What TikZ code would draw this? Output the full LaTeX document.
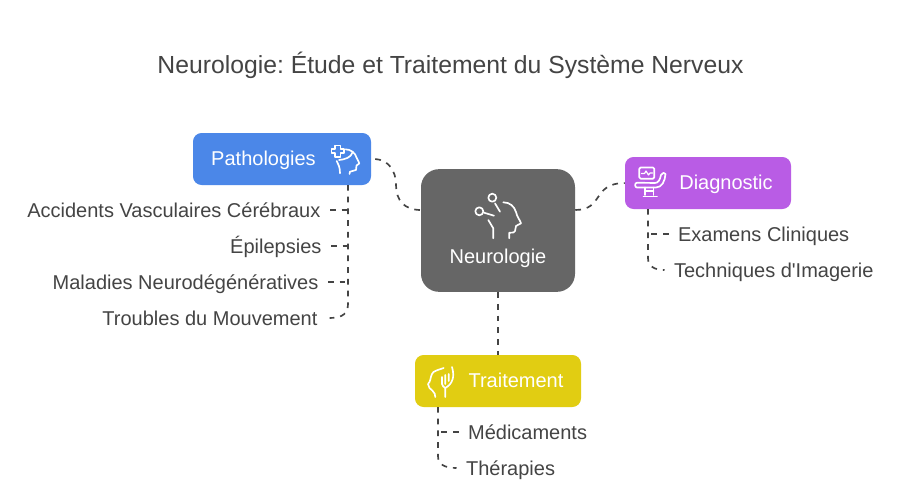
\documentclass[tikz,border=0pt]{standalone}
\usepackage{fontspec}
\setmainfont{Liberation Sans}
\newfontfamily\plainff{Liberation Sans}
\definecolor{inkc}{HTML}{444444}
\definecolor{bluec}{HTML}{4B87E8}
\definecolor{purplec}{HTML}{B95CE5}
\definecolor{yellowc}{HTML}{E1CD12}
\definecolor{grayc}{HTML}{666666}
\tikzset{
  boxn/.style={inner sep=0pt,minimum width=#1*0.75pt,minimum height=39pt,rounded corners=6.5pt,text=white},
  headl/.style={inner sep=0pt,text=white,font=\fontsize{15}{17}\selectfont,text height=11pt,text depth=3pt},
  leafr/.style={anchor=east,inner xsep=7pt,inner ysep=0pt,text=inkc,font=\fontsize{15}{17}\selectfont,text height=12pt,text depth=1.5pt},
  leafl/.style={anchor=west,inner xsep=7pt,inner ysep=0pt,text=inkc,font=\fontsize{15}{17}\selectfont,text height=12pt,text depth=1.5pt},
  conn/.style={draw=inkc,line width=1.25pt,dash pattern=on 4.3pt off 4.5pt},
  ico/.style={draw=white,line width=1.25pt,line cap=round,line join=round},
}
\begin{document}
\begin{tikzpicture}[x=0.75pt,y=-0.75pt]
\useasboundingbox (0,0) rectangle (900,489);
\fill[white] (0,0) rectangle (900,489);
\frenchspacing
\node[inner sep=0pt,text=inkc,font=\fontsize{18.55}{21}\selectfont] (title) at (450.5,65) {Neurologie: Étude et Traitement du Système Nerveux};

% boxes
\node[boxn=178,fill=bluec] (pat) at (282,159) {};
\node[boxn=166,fill=purplec] (dia) at (708,183) {};
\node[boxn=166,fill=yellowc] (tra) at (498,381) {};
\node[inner sep=0pt,minimum width=115.5pt,minimum height=92pt,rounded corners=13.5pt,fill=grayc] (neu) at (498,230.5) {};

% box labels
\node[headl] (patl) at (263.5,160) {Pathologies};
\node[headl] (dial) at (726,184) {Diagnostic};
\node[headl] (tral) at (516,382) {Traitement};
\node[headl] (neul) at (498,258.5) {Neurologie};

% leaves
\coordinate (a1) at (330,210); \coordinate (a2) at (330,246); \coordinate (a3) at (328,282); \coordinate (a4) at (327,318);
\node[leafr] (l1) at (a1) {Accidents Vasculaires Cérébraux};
\node[leafr] (l2) at (331,246) {Épilepsies};
\node[leafr] (l3) at (a3) {Maladies Neurodégénératives};
\node[leafr] (l4) at (a4) {Troubles du Mouvement};
\node[leafl] (d1) at (668.5,234) {Examens Cliniques};
\node[leafl] (d2) at (664.5,270) {Techniques d{\plainff'}Imagerie};
\node[leafl] (t1) at (458.5,432) {Médicaments};
\node[leafl] (t2) at (456.5,468) {Thérapies};

% connectors
\draw[conn] (pat.east) ++(3pt,0) .. controls (388,160) and (396,170) .. (396,185) .. controls (396,200) and (404,210) .. (neu.west |- 0,210);
\draw[conn] (neu.east |- 0,210) .. controls (604,210) and (592,183) .. (dia.west);
\draw[conn] (neu.south) -- (tra.north);
\coordinate (ps) at (348,185);
\draw[conn] (ps) -- (348,304) .. controls (348,313) and (343,318) .. ([xshift=2pt]l4.east |- 0,318);
\draw[conn] (l1.east |- 0,210) -- (348,210);
\draw[conn] (l2.east |- 0,246) -- (348,246);
\draw[conn] (l3.east |- 0,282) -- (348,282);
\coordinate (ds) at (648,209);
\draw[conn] (ds) -- (648,258) .. controls (648,266) and (654,270) .. (d2.west |- 0,270);
\draw[conn] (d1.west |- 0,234) -- (648,234);
\coordinate (ts) at (438,407);
\draw[conn] (ts) -- (438,456) .. controls (438,464) and (444,468) .. (t2.west |- 0,468);
\draw[conn] (t1.west |- 0,432) -- (438,432);

% Neurologie icon
\draw[ico] (492.3,197.7) circle[radius=3pt];
\draw[ico] (479.3,211.3) circle[radius=3pt];
\draw[ico] (495,203.3) -- (500,211.7);
\draw[ico] (484,212.7) -- (494,215.7);
\draw[ico] (503.3,202.3) .. controls (510,202.5) and (514,206) .. (516,212) .. controls (517,217) and (520,220) .. (521,223.3) -- (516,226) -- (515,231) .. controls (515,232.5) and (513,232.7) .. (509.3,232.7) -- (509.3,238.3);
\draw[ico] (488.3,220) -- (493.3,228.3) -- (493.3,238.3);

% Pathologies icon
\draw[ico] (335,145.5) -- (340.5,145.5) -- (340.5,149) -- (344,149) -- (344,153) -- (340.5,153) -- (340.5,157) -- (335,157) -- (335,153) -- (331.5,153) -- (331.5,149) -- (335,149) -- cycle;
\draw[ico] (345.7,149.3) .. controls (351,149.5) and (355.5,153) .. (356.7,158) .. controls (357.5,160.5) and (359.5,162) .. (359.3,163.5) -- (356.5,165.5) -- (356,170) -- (350,171.7) -- (349.5,174);
\draw[ico] (336.7,161) .. controls (338.5,165) and (340,167) .. (340,173.3);
\draw[ico] (339,160) .. controls (345,159.5) and (351,157.5) .. (352.5,152.5);

% Diagnostic icon
\draw[ico,rounded corners=1pt] (639.3,167.5) rectangle (654.3,178.7);
\draw[ico,line width=0.9pt] (641.5,173.5) -- (644.5,173.5) -- (646,171) -- (648.5,175) -- (650,173) -- (652.5,173);
\draw[ico] (637,182.7) -- (655,183) .. controls (658,183) and (660,180) .. (661,175) .. controls (662,172.5) and (665,172) .. (665.5,174) .. controls (665,181) and (662,187.5) .. (656,187.5) -- (637,187.5) .. controls (634.5,187.5) and (634.5,182.7) .. (637,182.7);
\draw[ico] (645,187.5) -- (645,195) (653.5,187.5) -- (653.5,195) (645,191) -- (653.5,191);
\draw[ico] (643.5,196.5) -- (657,196.5);

% Traitement icon
\draw[ico] (443.7,368) .. controls (438,370) and (433,371) .. (432,374) .. controls (430,378) and (431,381) .. (428,384) -- (429.5,388) .. controls (431,391) and (434,390) .. (434.7,393.7) -- (435.3,397);
\draw[ico] (452,367) .. controls (453.5,372) and (453.5,376) .. (452.7,379) .. controls (451.5,383) and (449,386) .. (445.3,388) -- (445.3,397);
\draw[ico] (442,377) -- (442,384) .. controls (442,386) and (444,387) .. (445.3,388) (445.3,375) -- (445.3,384) (448.7,374) -- (448.7,381);
\end{tikzpicture}
\end{document}
